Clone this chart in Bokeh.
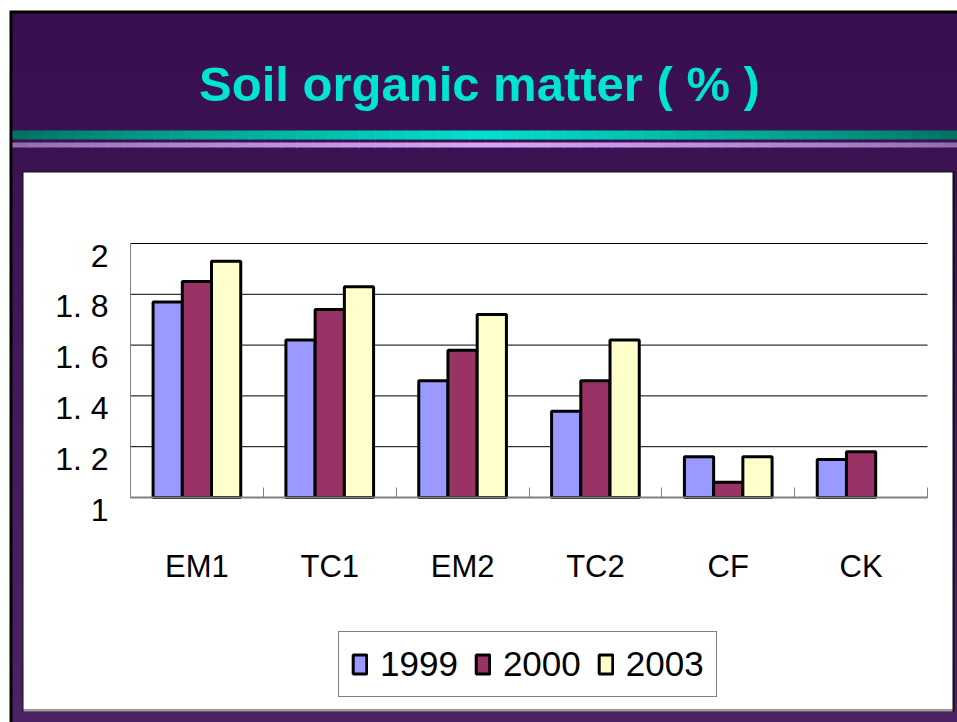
from bokeh.plotting import figure
from bokeh.models import (Range1d, FixedTicker, Label, Legend, LegendItem,
                          ColumnDataSource, LinearAxis)
from bokeh.transform import dodge
from bokeh.embed import file_html
from bokeh.resources import INLINE

# ---------------- data ----------------
categories = ["EM1", "TC1", "EM2", "TC2", "CF", "CK"]
years = ["1999", "2000", "2003"]
som_1999 = [1.77, 1.62, 1.46, 1.34, 1.16, 1.15]
som_2000 = [1.85, 1.74, 1.58, 1.46, 1.06, 1.18]
som_2003 = [1.93, 1.83, 1.72, 1.62, 1.16, float("nan")]
y_ticks = [1, 1.2, 1.4, 1.6, 1.8, 2]
y_tick_labels = ["1", "1. 2", "1. 4", "1. 6", "1. 8", "2"]
title_text = "Soil organic matter ( % )"

# ---------------- layout / styles (pixel geometry) ----------------
W, H = 957, 722
FONT = "Liberation Sans"
bar_colors = ["#9999FF", "#993366", "#FFFFCC"]
purple_top = (0x37, 0x0E, 0x4E)
purple_bot = (0x4B, 0x22, 0x63)
FRAME_LEFT, FRAME_RIGHT = 130, 927     # pixel columns of the plot area
FRAME_TOP, FRAME_BOTTOM = 243, 497     # pixel rows of y = 2 and y = 1
LABEL_SHIFT = 12                        # y tick labels sit a little below their ticks


def hexc(c):
    return "#%02x%02x%02x" % tuple(int(round(v)) for v in c)


def mix(a, b, t):
    return tuple(a[i] + (b[i] - a[i]) * t for i in range(3))


ncat = len(categories)
y0, y1 = y_ticks[0], y_ticks[-1]
ux = ncat / (FRAME_RIGHT - FRAME_LEFT)          # category units per pixel
uy = (y1 - y0) / (FRAME_BOTTOM - FRAME_TOP)     # value units per pixel

p = figure(width=W, height=H, output_backend="svg", toolbar_location=None,
           x_range=Range1d(0, W), y_range=Range1d(H, 0),
           x_axis_location=None, y_axis_location=None, min_border=0,
           outline_line_color=None, border_fill_color="white",
           background_fill_color="white", title=None)
p.grid.visible = False
p.extra_x_ranges = {"cat": Range1d(0 - FRAME_LEFT * ux, ncat + (W - FRAME_RIGHT) * ux)}
p.extra_y_ranges = {
    "val": Range1d(y0 - (H - FRAME_BOTTOM) * uy, y1 + FRAME_TOP * uy),
    "lab": Range1d(y0 - (H - FRAME_BOTTOM - LABEL_SHIFT) * uy, y1 + (FRAME_TOP + LABEL_SHIFT) * uy),
}

# ---------------- slide decoration ----------------
L, R, T, B, C = [], [], [], [], []


def box(l, r, t, b, c):
    L.append(l); R.append(r); T.append(t); B.append(b); C.append(c)


box(9, W, 10, H, "#000000")
n = 36
for i in range(n):
    ya = 13 + (H - 13) * i / n
    yb = 13 + (H - 13) * (i + 1) / n + 1
    box(12, W, ya, yb, hexc(mix(purple_top, purple_bot, i / (n - 1))))
bands = [(130, 139, (0x00, 0x6E, 0x5E), (0x00, 0xE2, 0xCC)),
         (142, 147, (0x8E, 0x6C, 0xAE), (0xD8, 0xA6, 0xF6))]
nseg = 60
for (t, b, ce, cm) in bands:
    for i in range(nseg):
        xl = 12 + (W - 12) * i / nseg
        xr = 12 + (W - 12) * (i + 1) / nseg + 1
        k = 1 - abs((i + 0.5) / nseg - 0.5) * 2
        box(xl, xr, t, b, hexc(mix(ce, cm, k ** 0.8)))
box(22, 954, 171, 711, "#111111")
box(23, 952, 172, 709, "#FFFFFF")
box(23, 952, 709, 711, "#A0A0A0")
p.quad(left=L, right=R, top=T, bottom=B, fill_color=C, line_color=None)

p.add_layout(Label(x=479, y=83, text=title_text, text_font=FONT,
                   text_font_style="bold", text_font_size="49px",
                   text_color="#00E4D2", text_align="center",
                   text_baseline="alphabetic"))

# ---------------- chart ----------------
centers = [i + 0.5 for i in range(ncat)]
src = ColumnDataSource(dict(x=centers, y1999=som_1999, y2000=som_2000, y2003=som_2003))

# horizontal grid lines
p.segment(x0=[0] * len(y_ticks), x1=[ncat] * len(y_ticks), y0=y_ticks, y1=y_ticks,
          x_range_name="cat", y_range_name="val", line_color="black", line_width=1)

offsets = [-0.22, 0.0, 0.22]
fields = ["y1999", "y2000", "y2003"]
renderers = []
for off, f, col in zip(offsets, fields, bar_colors):
    r = p.vbar(x=dodge("x", off), top=f, bottom=y0, width=0.22, source=src,
               x_range_name="cat", y_range_name="val",
               fill_color=col, line_color="black", line_width=3)
    renderers.append(r)

# y axis line (no labels)
yaxis_line = LinearAxis(x_range_name="cat", y_range_name="val", fixed_location=0,
                        bounds=(y0, y1), ticker=FixedTicker(ticks=y_ticks),
                        major_label_overrides={t: "" for t in y_ticks},
                        major_label_standoff=0, major_tick_in=0, major_tick_out=0,
                        minor_tick_in=0, minor_tick_out=0, axis_line_color="#808080")
p.add_layout(yaxis_line, "left")

# y tick labels (drawn slightly below their ticks, as in the original)
yaxis_lab = LinearAxis(x_range_name="cat", y_range_name="lab", fixed_location=0,
                       bounds=(y0, y1), ticker=FixedTicker(ticks=y_ticks),
                       major_label_overrides={t: s for t, s in zip(y_ticks, y_tick_labels)},
                       major_label_text_font=FONT, major_label_text_font_size="32px",
                       major_label_text_color="black", major_label_standoff=22,
                       major_tick_in=0, major_tick_out=0, minor_tick_in=0, minor_tick_out=0,
                       axis_line_color=None)
p.add_layout(yaxis_lab, "left")

xaxis = LinearAxis(x_range_name="cat", y_range_name="val", fixed_location=y0,
                   bounds=(0, ncat),
                   ticker=FixedTicker(ticks=centers, minor_ticks=list(range(ncat + 1))),
                   major_label_overrides={c: s for c, s in zip(centers, categories)},
                   major_label_text_font=FONT, major_label_text_font_size="31px",
                   major_label_text_color="black", major_label_standoff=51,
                   major_tick_in=0, major_tick_out=0, minor_tick_in=10, minor_tick_out=0,
                   minor_tick_line_color="#808080", axis_line_color="#808080",
                   axis_line_width=2)
p.add_layout(xaxis, "below")

legend = Legend(items=[LegendItem(label=y, renderers=[r]) for y, r in zip(years, renderers)],
                orientation="horizontal", location=(338, H - 697),
                label_text_font=FONT, label_text_font_size="35px", label_text_color="black",
                glyph_width=17, glyph_height=24, label_standoff=12, spacing=16,
                padding=12, margin=0, border_line_color="black", border_line_width=1,
                background_fill_color="white", background_fill_alpha=1)
p.add_layout(legend)

open("out.html", "w").write(file_html(p, INLINE))
